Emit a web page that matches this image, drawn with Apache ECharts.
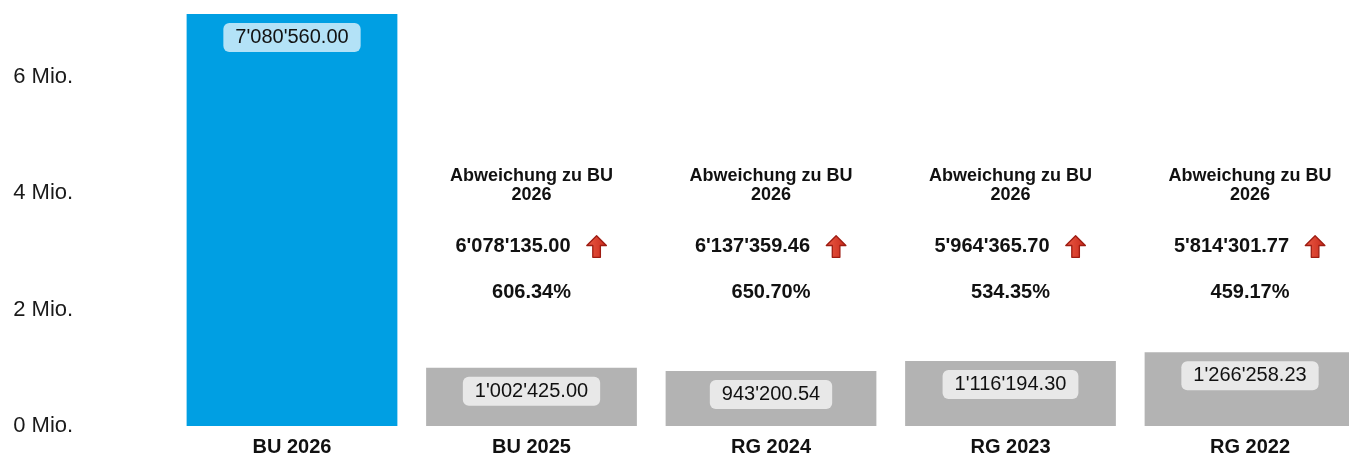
<!DOCTYPE html>
<html>
<head>
<meta charset="utf-8">
<script src="https://cdn.jsdelivr.net/npm/echarts@6/dist/echarts.min.js"></script>
<style>
  html, body { margin: 0; padding: 0; background: #ffffff; }
  #chart { width: 1349px; height: 455px; }
</style>
</head>
<body>
<div id="chart"></div>
<script>
// ---- data ----
const categories = ['BU 2026', 'BU 2025', 'RG 2024', 'RG 2023', 'RG 2022'];
const amounts = [7080560.00, 1002425.00, 943200.54, 1116194.30, 1266258.23];
const deviations = [null, 6078135.00, 6137359.46, 5964365.70, 5814301.77];
const deviationPct = [null, 606.34, 650.70, 534.35, 459.17];
const deviationTitle = 'Abweichung zu BU';
const deviationRef = '2026';
const yTicks = [0, 2, 4, 6]; // in Mio.

// ---- styling ----
const BLUE = '#009fe3';
const GRAY = '#b3b3b3';
const FONT = '"Liberation Sans", Arial, Helvetica, sans-serif';
const TXT = '#111111';

function fmtCHF(v) {
  const parts = v.toFixed(2).split('.');
  parts[0] = parts[0].replace(/\B(?=(\d{3})+(?!\d))/g, "'");
  return parts[0] + '.' + parts[1];
}

const arrowSvg = 'data:image/svg+xml;utf8,' + encodeURIComponent(
  '<svg xmlns="http://www.w3.org/2000/svg" width="22" height="24" viewBox="0 0 22 24">' +
  '<defs><linearGradient id="g" x1="0" y1="0" x2="1" y2="0">' +
  '<stop offset="0" stop-color="#ea5a44"/><stop offset="1" stop-color="#c92a1c"/></linearGradient></defs>' +
  '<path d="M11 1.2 L20.8 11 L14.8 11 L14.8 22.8 L7.2 22.8 L7.2 11 L1.2 11 Z" fill="url(#g)" stroke="#9e1c12" stroke-width="1.3" stroke-linejoin="round"/>' +
  '</svg>');

const annotationLevel = 3.27e6; // vertical anchor of the deviation block

const barData = amounts.map((v, i) => ({
  value: v,
  itemStyle: { color: i === 0 ? BLUE : GRAY }
}));

const annData = categories.map((c, i) => deviations[i] == null ? '-' : [i, annotationLevel]);

const chart = echarts.init(document.getElementById('chart'), null, { renderer: 'canvas' });

chart.setOption({
  animation: false,
  backgroundColor: '#ffffff',
  grid: {
    left: 172.25,
    right: -20.75,
    top: 14,
    bottom: 29,
    containLabel: false,
    outerBoundsMode: 'none'
  },
  xAxis: {
    type: 'category',
    data: categories,
    axisLine: { show: false },
    axisTick: { show: false },
    axisLabel: {
      margin: 11,
      fontFamily: FONT,
      fontSize: 20,
      fontWeight: 'bold',
      color: TXT
    }
  },
  yAxis: {
    type: 'value',
    min: 0,
    max: 'dataMax',
    interval: 2e6,
    splitLine: { show: false },
    axisLine: { show: false },
    axisTick: { show: false },
    axisLabel: {
      showMaxLabel: false,
      align: 'left',
      margin: 159,
      padding: [4, 0, 0, 0],
      fontFamily: FONT,
      fontSize: 22,
      color: '#1a1a1a',
      formatter: function (v) {
        const m = v / 1e6;
        return yTicks.indexOf(m) >= 0 ? m + ' Mio.' : '';
      }
    }
  },
  series: [
    {
      type: 'bar',
      data: barData,
      barWidth: '88%',
      label: {
        show: true,
        position: 'insideTop',
        distance: 9,
        fontFamily: FONT,
        fontSize: 20,
        lineHeight: 21,
        color: TXT,
        backgroundColor: 'rgba(255,255,255,0.7)',
        borderRadius: 6,
        padding: [4, 12, 4, 12],
        formatter: p => fmtCHF(p.value)
      }
    },
    {
      type: 'scatter',
      data: annData,
      symbolSize: 0,
      silent: true,
      itemStyle: { opacity: 1 },
      label: {
        show: true,
        position: 'inside',
        align: 'center',
        verticalAlign: 'middle',
        fontFamily: FONT,
        color: TXT,
        opacity: 1,
        textBorderWidth: 0,
        formatter: function (p) {
          const i = p.dataIndex;
          return '{t|' + deviationTitle + '}\n{t|' + deviationRef + '}\n{s| }\n' +
            '{v|' + fmtCHF(deviations[i]) + '}{g| }{a|}\n{s2| }\n{p|' + deviationPct[i].toFixed(2) + '%}';
        },
        rich: {
          t: { fontFamily: FONT, fontSize: 18, fontWeight: 'bold', lineHeight: 19, color: TXT, align: 'center' },
          s: { fontSize: 10, lineHeight: 30 },
          s2: { fontSize: 10, lineHeight: 22.5 },
          v: { fontFamily: FONT, fontSize: 20, fontWeight: 'bold', lineHeight: 24, color: TXT },
          g: { fontSize: 10, width: 15, lineHeight: 24 },
          a: { width: 22, height: 24, lineHeight: 24, backgroundColor: { image: arrowSvg } },
          p: { fontFamily: FONT, fontSize: 20, fontWeight: 'bold', lineHeight: 24, color: TXT, align: 'center' }
        }
      }
    }
  ]
});
</script>
</body>
</html>
